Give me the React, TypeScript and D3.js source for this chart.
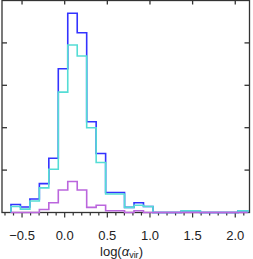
import React from "react";
import * as d3 from "d3";

// Histogram bins (log alpha_vir), 25 bins
const binStart = -0.63;
const binWidth = 0.111;
const allClumps = [1.9, 1.3, 3.2, 6.8, 12.8, 33.9, 47.0, 42.4, 21.4, 13.9, 4.7, 4.7, 1.2, 2.3, 1.4, 0, 0, 0, 0.4, 0.4, 0, 0, 0, 0, 0.4];
const subsetA = [1.4, 0.8, 2.7, 5.8, 10.2, 28.4, 39.5, 36.9, 20.0, 11.8, 4.35, 4.35, 1.2, 1.7, 1.4, 0, 0, 0, 0.4, 0.4, 0, 0, 0, 0, 0.4];
const subsetB = [0, 0, 0, 0.7, 2.3, 5.3, 7.3, 5.3, 1.2, 1.7, 0.4, 0.4, 0, 0.4, 0, 0, 0, 0, 0, 0, 0, 0, 0, 0, 0];
const xMajorTicks = [-0.5, 0.0, 0.5, 1.0, 1.5, 2.0];
const xTickLabels = ["\u22120.5", "0.0", "0.5", "1.0", "1.5", "2.0"];
const yTicks = [10, 20, 30, 40];

const W = 253, H = 259;
const L = 2, R = 249.5, T = 0.5, B = 212.5;

export default function App() {
  const x = d3.scaleLinear().domain([-0.735, 2.167]).range([L, R]);
  const y = d3.scaleLinear().domain([0, 50]).range([B, T]);
  const minor = d3.range(-7, 22).map((k) => k / 10).filter((v) => x(v) > L + 1 && x(v) < R - 1);

  const pathFor = (vals: number[]) => {
    const pts: [number, number][] = [];
    pts.push([binStart, 0]);
    vals.forEach((v, i) => pts.push([binStart + i * binWidth, v]));
    pts.push([binStart + vals.length * binWidth, vals[vals.length - 1]]);
    pts.push([binStart + vals.length * binWidth, 0]);
    const line = d3.line<[number, number]>().x((d) => x(d[0])).y((d) => y(d[1])).curve(d3.curveStepAfter);
    return line(pts) || "";
  };

  const axisColor = "#333";
  return (
    <svg width={W} height={H} style={{ position: "absolute", left: 0, top: 0 }} fontFamily="Liberation Sans, Arial, sans-serif">
      <rect x={0} y={0} width={W} height={H} fill="white" />
      {/* y ticks left/right */}
      {yTicks.map((t) => (
        <g key={"y" + t}>
          <line x1={L} x2={L + 5} y1={y(t)} y2={y(t)} stroke={axisColor} strokeWidth={1.3} />
          <line x1={R - 5} x2={R} y1={y(t)} y2={y(t)} stroke={axisColor} strokeWidth={1.3} />
        </g>
      ))}
      {/* top major ticks */}
      {xMajorTicks.map((t) => (
        <line key={"tt" + t} x1={x(t)} x2={x(t)} y1={T} y2={T + 4} stroke={axisColor} strokeWidth={1.3} />
      ))}
      {/* bottom ticks */}
      {minor.map((t) => {
        const major = xMajorTicks.some((m) => Math.abs(m - t) < 1e-6);
        return <line key={"bt" + t} x1={x(t)} x2={x(t)} y1={B} y2={B + (major ? 5 : 3)} stroke={axisColor} strokeWidth={1.2} />;
      })}
      <rect x={L} y={T} width={R - L} height={B - T} fill="none" stroke={axisColor} strokeWidth={1.3} />
      <path d={pathFor(allClumps)} fill="none" stroke="#3333ff" strokeWidth={1.6} />
      <path d={pathFor(subsetA)} fill="none" stroke="#55ddd5" strokeWidth={1.6} />
      <path d={pathFor(subsetB)} fill="none" stroke="#bb66dd" strokeWidth={1.6} />
      {xMajorTicks.map((t, i) => (
        <text key={"tl" + t} x={x(t)} y={239.5} fontSize={13} textAnchor="middle" fill="#222">
          {xTickLabels[i]}
        </text>
      ))}
      <text x={121.5} y={255.5} fontSize={13} textAnchor="middle" fill="#222">
        log(<tspan fontStyle="italic">α</tspan>
        <tspan fontSize={9} dy={2.5}>vir</tspan>
        <tspan dy={-2.5}>)</tspan>
      </text>
    </svg>
  );
}
